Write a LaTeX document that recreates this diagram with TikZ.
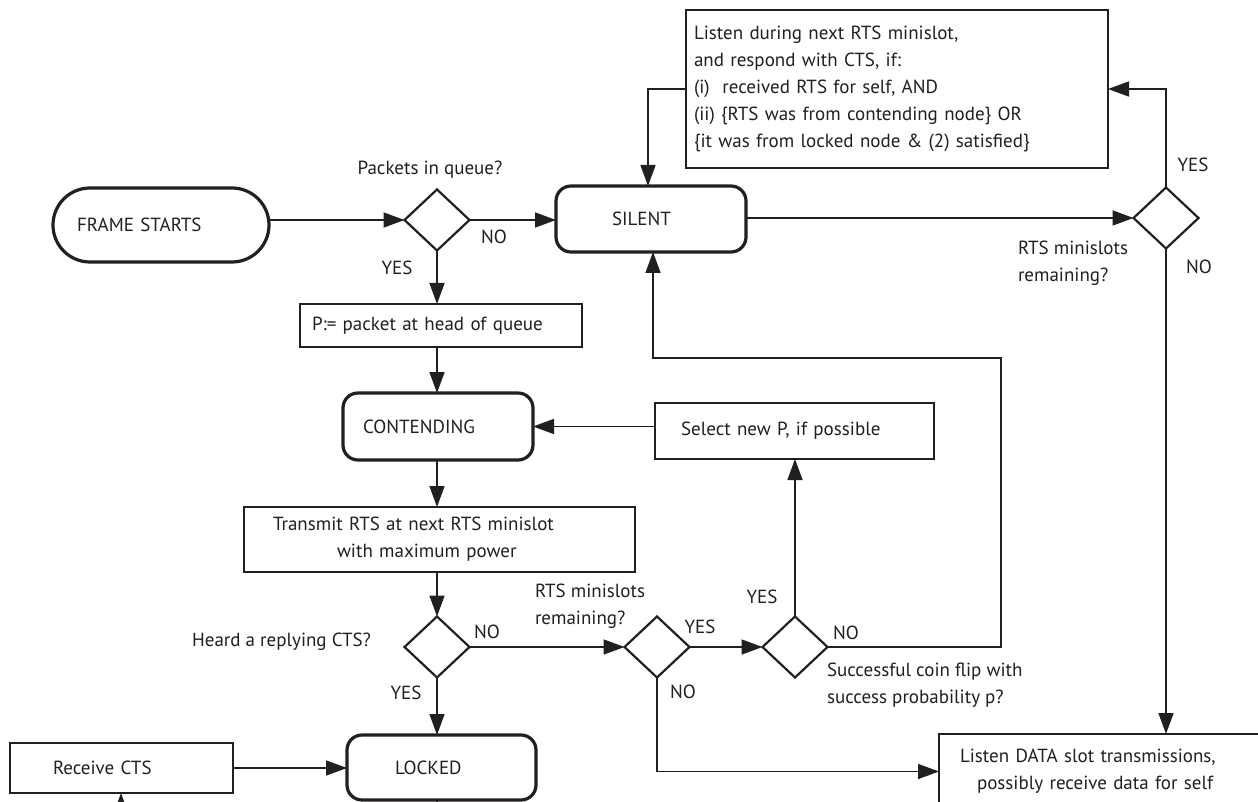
\documentclass[tikz,border=0pt]{standalone}
\usepackage{fontspec}
\setmainfont{PT Sans}
\usetikzlibrary{arrows.meta,shapes.geometric}
\definecolor{ink}{HTML}{231F20}

\begin{document}
\begin{tikzpicture}[x=1pt,y=-1pt,
  font=\fontsize{19}{27}\selectfont,
  every node/.style={inner sep=0pt, outer sep=0pt, text=ink},
  link/.style={draw=ink, line width=1.5pt, -{Triangle[length=21pt,width=15pt]}},
  plain/.style={draw=ink, line width=1.5pt},
  state/.style={draw=ink, line width=3.2pt, rounded corners=15pt, align=left},
  act/.style={draw=ink, line width=1.8pt, align=left},
  decision/.style={draw=ink, diamond, line width=2.2pt, minimum width=65pt, minimum height=61pt},
]
\useasboundingbox (0,0) rectangle (1258,802);
\fill[white] (0,0) rectangle (1258,802);
\clip (0,0) rectangle (1258,802);

% ---- states and actions ----
\node[state, rounded corners=37pt, minimum width=216pt, minimum height=74pt,
      text width=168pt, inner xsep=24pt] (start) at (161,225) {FRAME STARTS};
\node[state, minimum width=190pt, minimum height=66pt,
      text width=78pt, inner xsep=56pt] (silent) at (651,219) {SILENT};
\node[act, minimum width=422pt, minimum height=158pt,
      text width=406pt, inner xsep=8pt] (listen) at (897,89)
  {Listen during next RTS minislot,\\
   and respond with CTS, if:\\
   (i)\ \ received RTS for self, AND\\
   (ii) \{RTS was from contending node\} OR\\
   \{it was from locked node \& (2) satisfied\}};
\node[act, minimum width=282pt, minimum height=43pt,
      text width=258pt, inner xsep=12pt] (pbox) at (441,325.5) {P:= packet at head of queue};
\node[state, minimum width=190pt, minimum height=67pt,
      text width=150pt, inner xsep=20pt] (cont) at (438,426.5) {CONTENDING};
\node[act, minimum width=279pt, minimum height=56pt,
      text width=227pt, inner xsep=26pt] (sel) at (794.5,431) {Select new P, if possible};
\node[act, minimum width=391pt, minimum height=65pt,
      text width=333pt, inner xsep=29pt] (trans) at (439.5,539.5)
  {Transmit RTS at next RTS minislot\\\hspace*{64pt}with maximum power};
\node[state, minimum width=189pt, minimum height=65pt,
      text width=93pt, inner xsep=48pt] (locked) at (441.5,767.5) {LOCKED};
\node[act, minimum width=223pt, minimum height=50pt,
      text width=137pt, inner xsep=43pt] (recv) at (121.5,768) {Receive CTS};
\node[act, minimum width=331pt, minimum height=75pt,
      text width=289pt, inner xsep=21pt] (data) at (1104.5,771.5)
  {Listen DATA slot transmissions,\\\hspace*{17pt}possibly receive data for self};

% ---- decisions ----
\node[decision] (d1) at (437,220) {};
\node[decision] (d2) at (1166,218) {};
\node[decision] (d3) at (437,647) {};
\node[decision] (d4) at (657,647) {};
\node[decision] (d5) at (795,647) {};

% ---- decision texts and branch labels ----
\node (q1) at (430,170) {Packets in queue?};
\node (d1no) at (494,237) {NO};
\node (d1yes) at (397,268) {YES};

\node[anchor=west, align=left] (q2) at (1018,263) {RTS minislots\\remaining?};
\node (d2yes) at (1193,165) {YES};
\node (d2no) at (1199,267) {NO};

\node[anchor=east] (q3) at (371,642) {Heard a replying CTS?};
\node (d3no) at (487,632) {NO};
\node (d3yes) at (406,693) {YES};

\node[anchor=west, align=left] (q4) at (535,606) {RTS minislots\\remaining?};
\node (d4yes) at (700,627) {YES};
\node (d4no) at (683,692) {NO};

\node (d5yes) at (762,597) {YES};
\node (d5no) at (846,633) {NO};
\node[anchor=west, align=left] (q5) at (827,685) {Successful coin flip with\\success probability p?};

% ---- helper points for routed connectors ----
\coordinate (loopR) at (1001,358);
\coordinate (recvin) at (121,830);
\coordinate (lockout) at (437,830);

% ---- connectors ----
\draw[link] (start.east |- d1.west) -- (d1.west);
\draw[link] (d1.east) -- (silent.west |- d1.east);
\draw[link] (d1.south) -- (pbox.north -| d1.south);
\draw[link] (pbox.south -| d1.south) -- (cont.north -| d1.south);
\draw[link] (silent.east |- d2.west) -- (d2.west);
\draw[link] (d2.north) |- (listen.east);
\draw[link] (listen.west) -| ([xshift=-3pt]silent.north);
\draw[link] (d2.south) -- (data.north -| d2.south);
\draw[link] (sel.west |- cont.east) -- (cont.east);
\draw[link] (cont.south -| d1.south) -- (trans.north -| d1.south);
\draw[link] (trans.south -| d3.north) -- (d3.north);
\draw[link] (d3.east) -- (d4.west);
\draw[link] (d4.east) -- (d5.west);
\draw[link] (d5.north) -- (sel.south -| d5.north);
\draw[link] (d3.south) -- (locked.north -| d3.south);
\draw[link] (d4.south) |- (data.west);
\draw[link] (d5.east) -| (loopR) -| ([xshift=2pt]silent.south);
\draw[link] (recv.east) -- (locked.west |- recv.east);
\draw[link] (recvin) -- (recv.south -| recvin);
\draw[plain] (locked.south -| lockout) -- (lockout);
\end{tikzpicture}
\end{document}
